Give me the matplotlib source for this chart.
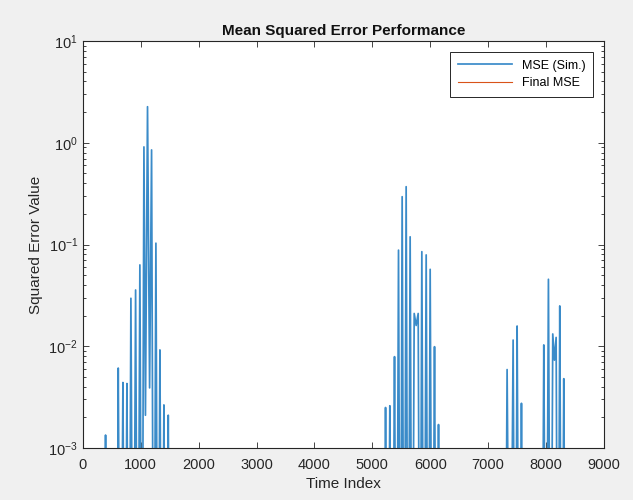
import numpy as np
import matplotlib
matplotlib.use("Agg")
import matplotlib.pyplot as plt
from matplotlib.ticker import LogLocator, NullFormatter, FixedLocator

plt.rcParams['font.family'] = ['Liberation Sans', 'DejaVu Sans']

# burst 1 (peaks and the troughs between them)
burst1_t = [0, 360, 391, 420, 580, 610, 650, 691, 725, 760, 795, 829, 870, 910, 947,
            984, 1020, 1054, 1080, 1116, 1152, 1186, 1224, 1261, 1296, 1330, 1365,
            1399, 1437, 1474, 1510]
burst1_mse = [1e-6, 1e-6, 1.34e-3, 1e-6, 1e-6, 6.1e-3, 1e-6, 4.4e-3, 1e-6, 4.3e-3, 1e-6,
              0.0296, 1e-6, 0.0357, 1e-6, 0.063, 1e-6, 0.91, 2.1e-3, 2.26, 3.9e-3, 0.85,
              1e-6, 0.103, 1e-6, 9.2e-3, 1e-6, 2.65e-3, 1e-6, 2.1e-3, 1e-6]

# burst 2
burst2_t = [5195, 5228, 5265, 5302, 5342, 5383, 5418, 5452, 5484, 5515, 5550, 5584,
            5618, 5653, 5688, 5723, 5757, 5792, 5823, 5855, 5892, 5930, 5965, 5999,
            6036, 6074, 6108, 6143, 6180]
burst2_mse = [1e-6, 2.5e-3, 1e-6, 2.6e-3, 1e-6, 7.9e-3, 1e-6, 0.088, 1e-6, 0.295, 1e-6,
              0.37, 1e-6, 0.119, 1e-6, 0.021, 0.016, 0.021, 1e-6, 0.085, 1e-6, 0.079,
              1e-6, 0.057, 1e-6, 9.9e-3, 1e-6, 1.7e-3, 1e-6]

# burst 3
burst3_t = [7290, 7328, 7380, 7432, 7467, 7501, 7540, 7576, 7612, 7925, 7962, 8002,
            8042, 8080, 8117, 8146, 8175, 8206, 8238, 8272, 8307, 8345, 9000]
burst3_mse = [1e-6, 5.9e-3, 1e-6, 0.0115, 1e-6, 0.0158, 1e-6, 2.75e-3, 1e-6, 1e-6,
              0.0103, 1e-6, 0.0455, 1e-6, 0.0132, 7.3e-3, 0.0122, 1e-6, 0.0249, 1e-6,
              4.8e-3, 1e-6, 1e-6]

final_mse = 2.4e-4  # sits below the visible range

t = np.array(burst1_t + burst2_t + burst3_t)
mse = np.array(burst1_mse + burst2_mse + burst3_mse)

fig = plt.figure(figsize=(6.33, 5.0), dpi=100, facecolor="#f0f0f0")
ax = fig.add_axes([0.131, 0.104, 0.823, 0.814])
ax.set_facecolor("white")

ax.semilogy(t, mse, color="#3a8bc9", lw=1.25, label="MSE (Sim.)")
ax.axhline(final_mse, color="#D95319", lw=0.8, label="Final MSE")

ax.set_xlim(0, 9000)
ax.set_ylim(1e-3, 10)
ax.xaxis.set_major_locator(FixedLocator(np.arange(0, 9001, 1000)))
ax.yaxis.set_major_locator(LogLocator(base=10, numticks=10))
ax.yaxis.set_minor_locator(LogLocator(base=10, subs=np.arange(2, 10), numticks=20))
ax.yaxis.set_minor_formatter(NullFormatter())

axc = "#262626"
for s in ax.spines.values():
    s.set_color(axc)
    s.set_linewidth(0.8)
ax.tick_params(which="both", direction="in", top=True, right=True, colors=axc,
               labelsize=10.5, width=0.6)
ax.tick_params(which="major", length=4)
ax.tick_params(which="minor", length=2.5)
ax.tick_params(axis="x", pad=7)

ax.set_title("Mean Squared Error Performance", fontsize=11, fontweight="bold",
             color="#111111", pad=4)
ax.set_xlabel("Time Index", fontsize=11, color=axc, labelpad=4)
ax.set_ylabel("Squared Error Value", fontsize=11, color=axc, labelpad=4)

leg = ax.legend(loc="upper right", fontsize=9, frameon=True, fancybox=False,
                framealpha=1, edgecolor=axc, handlelength=4.3, borderpad=0.6,
                labelspacing=0.45, borderaxespad=0.9)
leg.get_frame().set_linewidth(0.7)

fig.savefig("out.png", dpi=100, facecolor=fig.get_facecolor())
